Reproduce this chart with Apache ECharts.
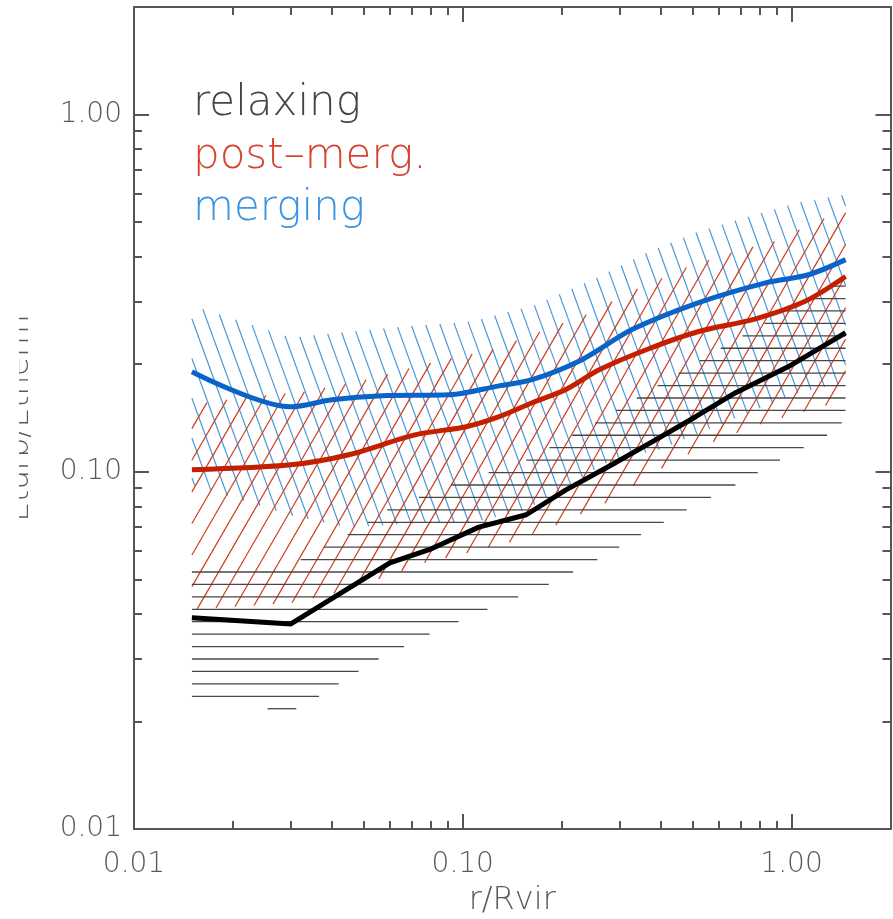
<!DOCTYPE html>
<html>
<head>
<meta charset="utf-8">
<script src="https://cdn.jsdelivr.net/npm/echarts@6/dist/echarts.min.js"></script>
<style>
html,body{margin:0;padding:0;background:#fff}
#chart{width:893px;height:919px}
</style>
</head>
<body>
<div id="chart"></div>
<script>
// Profiles of Eturb/Etherm against r/Rvir, one per cluster class.
// Mean curves: [r/Rvir, Eturb/Etherm]
const relaxMean = [[0.015,0.039],[0.030,0.0375],[0.060,0.0556],[0.079,0.0605],[0.112,0.070],[0.156,0.0758],[0.206,0.089],[0.284,0.1046],[0.387,0.123],[0.511,0.1426],[0.676,0.1665],[0.979,0.197],[1.27,0.227],[1.46,0.245]];
const postMean  = [[0.015,0.1013],[0.030,0.1046],[0.045,0.1116],[0.072,0.127],[0.1025,0.1337],[0.129,0.1426],[0.1625,0.156],[0.206,0.170],[0.26,0.193],[0.368,0.221],[0.522,0.247],[0.778,0.268],[1.10,0.300],[1.46,0.352]];
const mergMean  = [[0.015,0.1906],[0.030,0.152],[0.040,0.159],[0.057,0.1633],[0.091,0.1642],[0.129,0.174],[0.1625,0.181],[0.2305,0.206],[0.327,0.250],[0.522,0.2975],[0.834,0.338],[1.126,0.356],[1.46,0.3925]];

// Scatter envelopes (upper and lower edges of each hatched band)
const relaxHi = [[0.015,0.0545],[0.030,0.0549],[0.0446,0.0666],[0.059,0.0783],[0.0923,0.0919],[0.157,0.108],[0.256,0.138],[0.395,0.1753],[0.613,0.2225],[0.979,0.2843],[1.46,0.345]];
const relaxLo = [[0.015,0.0231],[0.030,0.0213],[0.0362,0.0234],[0.055,0.0298],[0.0797,0.0352],[0.118,0.0411],[0.182,0.0483],[0.256,0.0567],[0.348,0.0666],[0.474,0.0778],[0.676,0.0919],[0.926,0.108],[1.276,0.126],[1.46,0.140]];
const postHi  = [[0.015,0.154],[0.0225,0.1623],[0.033,0.1675],[0.0509,0.181],[0.0802,0.202],[0.1229,0.2196],[0.1683,0.245],[0.237,0.2754],[0.336,0.3235],[0.477,0.3727],[0.653,0.4106],[0.882,0.4409],[1.233,0.508],[1.46,0.542]];
const postLo  = [[0.015,0.0411],[0.0306,0.043],[0.0413,0.0458],[0.0558,0.0502],[0.0764,0.0556],[0.1032,0.0593],[0.1404,0.0637],[0.1922,0.071],[0.2726,0.0819],[0.395,0.1013],[0.548,0.119],[0.794,0.1355],[1.46,0.159]];
const mergHi  = [[0.015,0.2917],[0.030,0.2374],[0.0452,0.2467],[0.0655,0.2548],[0.1061,0.2632],[0.1672,0.2936],[0.2596,0.3517],[0.368,0.4133],[0.511,0.4672],[0.741,0.518],[1.05,0.567],[1.46,0.597]];
const mergLo  = [[0.015,0.092],[0.030,0.0755],[0.0452,0.0697],[0.0738,0.072],[0.1069,0.072],[0.1558,0.0783],[0.2062,0.0908],[0.2843,0.108],[0.395,0.1152],[0.6575,0.1398],[1.05,0.1665],[1.46,0.1776]];

// Axis ticks and labels
const majorTicks = [0.01, 0.1, 1];
const minorTicks = [0.02,0.03,0.04,0.05,0.06,0.07,0.08,0.09,0.2,0.3,0.4,0.5,0.6,0.7,0.8,0.9,2];
const classNames = ['relaxing', 'post–merg.', 'merging'];

const AXIS_COLOR = '#555';
const LABEL_COLOR = '#5a5a5a';
const FONT = 'DejaVu Sans';
// Fixed plot rectangle; labels are allowed to sit in the margins as laid out.
const GRID = {left: 134, right: 2.5, top: 7, bottom: 90, containLabel: false, outerBoundsMode: 'none'};

const chart = echarts.init(document.getElementById('chart'), null, {renderer: 'canvas'});

// Line-fill a band between two curves: parallel strokes at a given angle and
// spacing, clipped to the band polygon in pixel space.
function hatchBand(name, upper, lower, angleDeg, spacing, phase, color, width) {
  return {
    type: 'custom', name: name, silent: true, z: 2,
    xAxisIndex: 0, yAxisIndex: 0,
    data: [[upper[0][0], upper[0][1]]],
    renderItem: function (params, api) {
      const poly = upper.map(p => api.coord(p))
        .concat(lower.slice().reverse().map(p => api.coord(p)));
      const a = angleDeg * Math.PI / 180;
      const dir = [Math.cos(a), -Math.sin(a)];
      const nrm = [-dir[1], dir[0]];
      let lo = Infinity, hi = -Infinity;
      poly.forEach(p => {
        const d = p[0] * nrm[0] + p[1] * nrm[1];
        lo = Math.min(lo, d); hi = Math.max(hi, d);
      });
      const children = [];
      for (let k = Math.ceil((lo - phase) / spacing); k * spacing + phase <= hi; k++) {
        const c = k * spacing + phase;
        const ts = [];
        for (let i = 0; i < poly.length; i++) {
          const p = poly[i], q = poly[(i + 1) % poly.length];
          const dp = p[0] * nrm[0] + p[1] * nrm[1] - c;
          const dq = q[0] * nrm[0] + q[1] * nrm[1] - c;
          if ((dp < 0) !== (dq < 0)) {
            const s = dp / (dp - dq);
            const x = p[0] + s * (q[0] - p[0]);
            const y = p[1] + s * (q[1] - p[1]);
            ts.push(x * dir[0] + y * dir[1]);
          }
        }
        ts.sort((u, v) => u - v);
        for (let j = 0; j + 1 < ts.length; j += 2) {
          children.push({
            type: 'line',
            shape: {
              x1: c * nrm[0] + ts[j] * dir[0], y1: c * nrm[1] + ts[j] * dir[1],
              x2: c * nrm[0] + ts[j + 1] * dir[0], y2: c * nrm[1] + ts[j + 1] * dir[1]
            },
            style: {stroke: color, lineWidth: width}
          });
        }
      }
      return {type: 'group', children: children};
    }
  };
}

function meanLine(name, data, color, smooth) {
  return {
    type: 'line', name: name, data: data, z: 4,
    xAxisIndex: 0, yAxisIndex: 0,
    showSymbol: false, symbol: 'none', smooth: smooth,
    lineStyle: {color: color, width: 5},
    itemStyle: {color: color}
  };
}

function logAxis(pos, gridIndex, ticks, len, extra) {
  return Object.assign({
    type: 'log', logBase: 10, gridIndex: gridIndex, position: pos,
    min: 0.01, max: 2,
    axisLine: {show: gridIndex === 0, lineStyle: {color: AXIS_COLOR, width: 2}},
    axisTick: {show: true, inside: true, length: len, customValues: ticks,
               lineStyle: {color: AXIS_COLOR, width: 2}},
    axisLabel: {show: false},
    splitLine: {show: false},
    minorTick: {show: false},
    minorSplitLine: {show: false}
  }, extra || {});
}

function tickLabels(margin) {
  return {
    show: true, customValues: majorTicks, margin: margin,
    formatter: v => Number(v).toFixed(2),
    color: LABEL_COLOR, fontFamily: FONT, fontWeight: 200, fontSize: 28
  };
}

const option = {
  backgroundColor: '#fff',
  animation: false,
  grid: [Object.assign({}, GRID), Object.assign({}, GRID)],
  xAxis: [
    logAxis('bottom', 0, majorTicks, 15, {
      axisLabel: tickLabels(22),
      name: 'r/Rvir', nameLocation: 'middle', nameGap: 56,
      nameTextStyle: {color: LABEL_COLOR, fontFamily: FONT, fontWeight: 200, fontSize: 32}
    }),
    logAxis('top', 0, majorTicks, 15),
    logAxis('bottom', 1, minorTicks, 8),
    logAxis('top', 1, minorTicks, 8)
  ],
  yAxis: [
    logAxis('left', 0, majorTicks, 15, {axisLabel: tickLabels(12)}),
    logAxis('right', 0, majorTicks, 15),
    logAxis('left', 1, minorTicks, 8),
    logAxis('right', 1, minorTicks, 8)
  ],
  graphic: [
    {type: 'text', x: 35, y: 418, rotation: Math.PI / 2, z: 10,
     style: {text: 'Eturb/Etherm', fill: LABEL_COLOR, font: '200 31px "DejaVu Sans"',
             textAlign: 'center', textVerticalAlign: 'bottom'}},
    {type: 'rect', shape: {x: 0, y: 280, width: 19, height: 280}, z: 20,
     style: {fill: '#fff'}},
    {type: 'text', x: 193, y: 104, z: 10,
     style: {text: classNames[0], fill: '#444', font: '200 42px "DejaVu Sans"', textVerticalAlign: 'middle'}},
    {type: 'text', x: 193, y: 157, z: 10,
     style: {text: classNames[1], fill: '#d5432f', font: '200 42px "DejaVu Sans"', textVerticalAlign: 'middle'}},
    {type: 'text', x: 193, y: 209, z: 10,
     style: {text: classNames[2], fill: '#3c93e0', font: '200 42px "DejaVu Sans"', textVerticalAlign: 'middle'}}
  ],
  series: [
    hatchBand('merging band', mergHi, mergLo, -70, 13.6, -479.3, '#4a98dc', 1.2),
    hatchBand('post-merg. band', postHi, postLo, 60, 15.8, 712.3, '#cf3b1c', 1.2),
    hatchBand('relaxing band', relaxHi, relaxLo, 0, 12.43, 572, '#474747', 1.3),
    meanLine('merging', mergMean, '#0a64c8', 0.3),
    meanLine('post-merg.', postMean, '#c42000', 0.3),
    meanLine('relaxing', relaxMean, '#000000', false)
  ]
};

chart.setOption(option);
</script>
</body>
</html>
